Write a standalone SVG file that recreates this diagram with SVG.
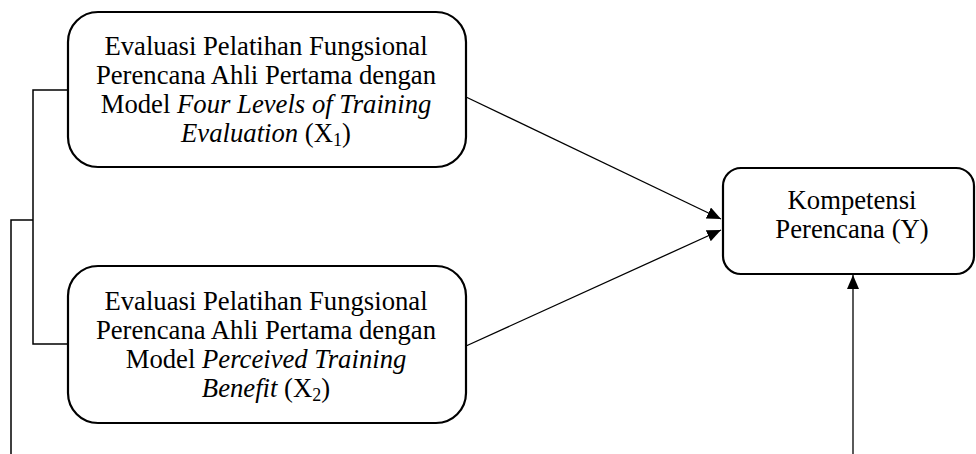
<svg xmlns="http://www.w3.org/2000/svg" width="976" height="454" viewBox="0 0 976 454">
<style>
.box{fill:#fff;stroke:#000;stroke-width:2.2}
.t{font-family:"Liberation Serif","Times New Roman",serif;font-size:26.7px;fill:#000;text-anchor:middle}
.i{font-style:italic}
.s{font-size:18px}
.ln{fill:none;stroke:#000;stroke-width:1.5}
.ar{fill:none;stroke:#000;stroke-width:1.3}
</style>
<defs>
<marker id="ah" viewBox="0 0 10 10" refX="10" refY="5" markerWidth="14" markerHeight="12" markerUnits="userSpaceOnUse" orient="auto" preserveAspectRatio="none">
<path d="M0,0 L10,5 L0,10 Z" fill="#000"/>
</marker>
</defs>
<rect width="976" height="454" fill="#fff"/>
<g id="connectors">
<polyline class="ln" points="68,90 33,90 33,344 68,344"/>
<polyline class="ln" points="33,220 11,220 11,454"/>
<line class="ar" x1="466" y1="97" x2="721" y2="219" marker-end="url(#ah)"/>
<line class="ar" x1="466" y1="346" x2="721" y2="230" marker-end="url(#ah)"/>
<line class="ar" x1="853" y1="454" x2="853" y2="275" marker-end="url(#ah)"/>
</g>
<g id="node-x1">
<rect class="box" x="68" y="12" width="398" height="155" rx="30" ry="30"/>
<text class="t" x="266" y="55">Evaluasi Pelatihan Fungsional</text>
<text class="t" x="266" y="84">Perencana Ahli Pertama dengan</text>
<text class="t" x="266" y="113">Model <tspan class="i">Four Levels of Training</tspan></text>
<text class="t" x="266" y="142"><tspan class="i">Evaluation</tspan> (X<tspan class="s" dy="4">1</tspan><tspan dy="-4">)</tspan></text>
</g>
<g id="node-x2">
<rect class="box" x="68" y="266" width="398" height="157" rx="30" ry="30"/>
<text class="t" x="266" y="310">Evaluasi Pelatihan Fungsional</text>
<text class="t" x="266" y="339">Perencana Ahli Pertama dengan</text>
<text class="t" x="266" y="368">Model <tspan class="i">Perceived Training</tspan></text>
<text class="t" x="266" y="397"><tspan class="i">Benefit</tspan> (X<tspan class="s" dy="4">2</tspan><tspan dy="-4">)</tspan></text>
</g>
<g id="node-y">
<rect class="box" x="723" y="168" width="251" height="106" rx="18" ry="18"/>
<text class="t" x="852" y="209">Kompetensi</text>
<text class="t" x="852" y="238">Perencana (Y)</text>
</g>
</svg>
